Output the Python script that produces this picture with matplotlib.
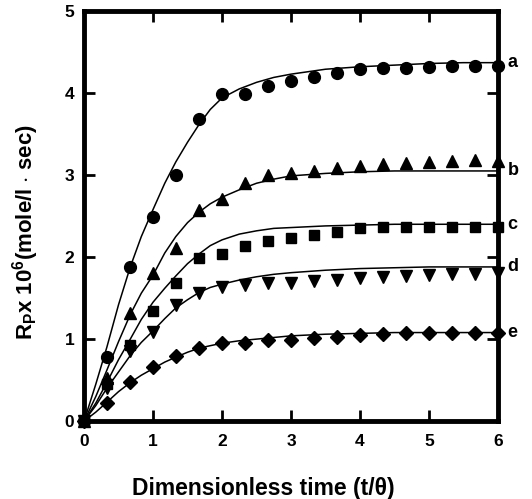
import numpy as np
import matplotlib.pyplot as plt

plt.rcParams['font.family'] = ['Liberation Sans', 'DejaVu Sans']
plt.rcParams['font.weight'] = 'bold'
plt.rcParams['mathtext.fontset'] = 'custom'
plt.rcParams['mathtext.rm'] = 'Liberation Sans:bold'
plt.rcParams['mathtext.bf'] = 'Liberation Sans:bold'
plt.rcParams['mathtext.default'] = 'bf'

# measured points (t/theta)
t_pts = [0, 0.33, 0.67, 1.0, 1.33, 1.67, 2.0, 2.33, 2.67, 3.0, 3.33, 3.67,
         4.0, 4.33, 4.67, 5.0, 5.33, 5.67, 6.0]
a_pts = [0, 0.78, 1.88, 2.49, 3.0, 3.68, 3.99, 3.99, 4.09, 4.15, 4.19, 4.24,
         4.29, 4.30, 4.31, 4.32, 4.33, 4.33, 4.33]
b_pts = [0, 0.52, 1.32, 1.8, 2.11, 2.57, 2.71, 2.9, 3.0, 3.03, 3.05, 3.08,
         3.11, 3.14, 3.15, 3.16, 3.17, 3.18, 3.17]
c_pts = [0, 0.45, 0.93, 1.34, 1.68, 1.99, 2.04, 2.13, 2.2, 2.23, 2.27, 2.3,
         2.36, 2.37, 2.37, 2.37, 2.37, 2.37, 2.37]
d_pts = [0, 0.4, 0.86, 1.09, 1.41, 1.56, 1.64, 1.66, 1.68, 1.69, 1.71, 1.72,
         1.75, 1.76, 1.77, 1.78, 1.79, 1.79, 1.8]
e_pts = [0, 0.22, 0.48, 0.66, 0.79, 0.89, 0.95, 0.95, 0.99, 0.99, 1.01, 1.02,
         1.05, 1.06, 1.07, 1.07, 1.07, 1.07, 1.07]

# model curves
t_fit = [0, 0.17, 0.33, 0.5, 0.67, 0.83, 1.0, 1.17, 1.33, 1.5, 1.67, 1.83,
         2.0, 2.25, 2.5, 2.75, 3.0, 3.5, 4.0, 4.5, 5.0, 5.5, 6.0]
a_fit = [0, 0.45, 0.9, 1.42, 1.88, 2.25, 2.58, 2.9, 3.16, 3.4, 3.62, 3.8,
         3.94, 4.05, 4.13, 4.19, 4.23, 4.29, 4.32, 4.34, 4.36, 4.37, 4.37]
b_fit = [0, 0.3, 0.62, 0.97, 1.3, 1.56, 1.78, 2.05, 2.25, 2.42, 2.55, 2.65,
         2.73, 2.82, 2.9, 2.95, 2.99, 3.02, 3.04, 3.05, 3.05, 3.05, 3.05]
c_fit = [0, 0.22, 0.47, 0.75, 1.0, 1.24, 1.45, 1.62, 1.77, 1.92, 2.04, 2.14,
         2.21, 2.28, 2.32, 2.35, 2.36, 2.38, 2.39, 2.4, 2.4, 2.4, 2.4]
d_fit = [0, 0.19, 0.4, 0.6, 0.8, 0.96, 1.1, 1.25, 1.38, 1.48, 1.57, 1.63,
         1.67, 1.72, 1.76, 1.79, 1.81, 1.84, 1.86, 1.87, 1.88, 1.88, 1.88]
e_fit = [0, 0.11, 0.23, 0.36, 0.47, 0.56, 0.64, 0.72, 0.78, 0.84, 0.89, 0.92,
         0.95, 0.98, 1.0, 1.02, 1.04, 1.06, 1.07, 1.08, 1.08, 1.08, 1.08]

names = ['a', 'b', 'c', 'd', 'e']
pts = [a_pts, b_pts, c_pts, d_pts, e_pts]
fits = [a_fit, b_fit, c_fit, d_fit, e_fit]
marks = ['o', '^', 's', 'v', 'D']
msizes = [8.5, 8.5, 7, 8.5, 7]

fig = plt.figure(figsize=(5.32, 4.99), dpi=100)
ax = fig.add_axes([0.158, 0.156, 0.778, 0.822])

for nm, p, f, m, ms in zip(names, pts, fits, marks, msizes):
    ax.plot(t_fit, f, color='black', lw=1.1, zorder=3)
    ax.plot(t_pts, p, ls='none', marker=m, ms=ms, color='black',
            clip_on=False, zorder=5)
    ax.text(6.14, f[-1], nm, fontsize=13, fontweight='bold',
            va='center', ha='left')

ax.set_xlim(0, 6)
ax.set_ylim(0, 5)
ax.set_xticks(range(0, 7))
ax.set_yticks(range(0, 6))
for s in ax.spines.values():
    s.set_linewidth(3.5)
ax.tick_params(direction='in', length=8, width=2, top=True, right=True,
               labelsize=12.5)
ax.tick_params(axis='x', pad=9)
ax.tick_params(axis='y', pad=7)
for lab in ax.get_xticklabels() + ax.get_yticklabels():
    lab.set_fontweight('bold')

ax.set_xlabel('Dimensionless time (t/θ)', fontsize=16.5, fontweight='bold')
ax.xaxis.set_label_coords(0.434, -0.135)
ax.set_ylabel(r'R$_{P}$x 10$^{6}$(mole/l $\cdot$ sec)', fontsize=16,
              fontweight='bold')
ax.yaxis.set_label_coords(-0.105, 0.46)

fig.savefig('out.png', dpi=100)
